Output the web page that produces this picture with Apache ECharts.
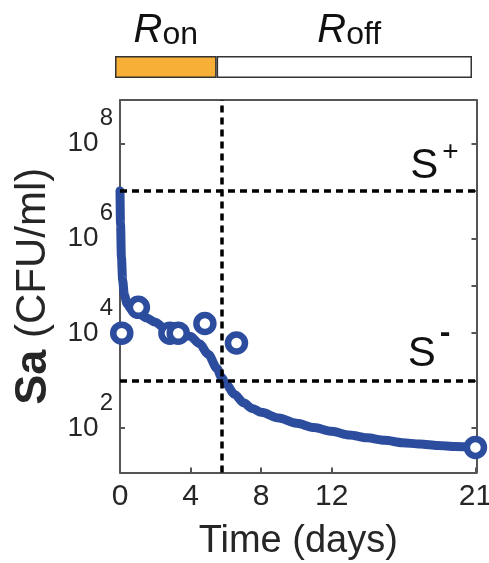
<!DOCTYPE html>
<html><head><meta charset="utf-8">
<script src="https://cdn.jsdelivr.net/npm/echarts@6/dist/echarts.min.js"></script>
<style>html,body{margin:0;padding:0;background:#fff}#c{width:489px;height:563px}</style>
</head><body><div id="c"></div>
<script>
// Model curve: time (days) and Sa density (CFU/ml)
const curveDays = [0,0.03,0.08,0.15,0.25,0.4,0.6,1.0,1.5,2.0,2.5,3.0,3.5,4.0,4.5,5.0,5.5,5.75,6.0,6.5,7.0,7.5,8,9,10,11,12,13,14,15,16,17,18,19,20.14];
const curveCFU  = [1.0e7,2.0e6,4.0e5,1.3e5,6.3e4,4.2e4,3.3e4,2.7e4,2.1e4,1.7e4,1.3e4,1.1e4,9.5e3,8.5e3,6.0e3,3.6e3,1.8e3,1.17e3,850,510,340,257,214,162,126,102,85,71,62,55,49,46,43,41,39];
// Observed points
const obsDays = [0.1,1.04,2.83,3.3,4.81,6.6,20.14];
const obsCFU  = [1.0e4,3.5e4,1.0e4,1.0e4,1.6e4,6.2e3,39];
// Axis ticks
const xTickValues = [0,4,8,12,20.14];
const xTickLabels = ['0','4','8','12','21'];
const yTickExps = [2,3,4,5,6,7,8];
const yLabelExps = [2,4,6,8];
// Thresholds and phases
const sPlus = 1e7, sMinus = 1e3;
const switchDay = 5.75;
const phaseNames = ['on','off'];
const phaseDurations = [5.75, 14.45];

const FONT = '"Liberation Sans", Arial, Helvetica, sans-serif';
const BLUE = '#2c4c9e';
const AX = '#555555';
const TXT = '#262626';
const yMin = 1.062, yMax = 8.917, xMax = 20.2;
const lg = v => Math.log10(v);

const chart = echarts.init(document.getElementById('c'), null, {renderer:'canvas'});

const axLine = {show:true, onZero:false, lineStyle:{color:AX, width:2}};
const phaseRich = {
  R:{fontSize:40, lineHeight:40, fontStyle:'italic', verticalAlign:'bottom', color:'#111', fontFamily:FONT},
  s:{fontSize:32, lineHeight:32, verticalAlign:'bottom', color:'#111', fontFamily:FONT}
};

const option = {
  animation:false,
  backgroundColor:'#fff',
  grid:[
    {left:120, right:12.5, top:100, bottom:90.5, outerBoundsMode:'none'},
    {left:115, right:17, top:56, height:22, outerBoundsMode:'none'}
  ],
  xAxis:[
    {gridIndex:0, type:'value', min:0, max:xMax, position:'bottom',
     axisLine:axLine,
     axisTick:{show:true, inside:true, length:5, customValues:xTickValues, lineStyle:{color:AX, width:2}},
     axisLabel:{show:true, customValues:xTickValues, margin:9, fontSize:30, color:TXT, fontFamily:FONT,
       formatter:(v)=>{const i=xTickValues.indexOf(v); return i>=0?xTickLabels[i]:'';}},
     splitLine:{show:false},
     name:'Time (days)', nameLocation:'middle', nameGap:50,
     nameTextStyle:{fontSize:38, color:TXT, fontFamily:FONT}},
    {gridIndex:0, type:'value', min:0, max:xMax, position:'top',
     axisLine:axLine, axisTick:{show:false}, axisLabel:{show:false}, splitLine:{show:false}},
    {gridIndex:1, type:'value', min:0, max:xMax, show:false}
  ],
  yAxis:[
    {gridIndex:0, type:'value', min:yMin, max:yMax, position:'left',
     axisLine:axLine,
     axisTick:{show:true, inside:true, length:5, customValues:yTickExps, lineStyle:{color:AX, width:2}},
     axisLabel:{show:true, customValues:yLabelExps, margin:7, color:TXT, fontFamily:FONT,
       formatter:(v)=>'{b|10}{e|'+v+'}',
       rich:{
         b:{fontSize:28, lineHeight:28, padding:[22,0,22,0], color:TXT, fontFamily:FONT},
         e:{fontSize:24, lineHeight:22, padding:[0,0,50,1], color:TXT, fontFamily:FONT}
       }},
     splitLine:{show:false},
     name:'{b|Sa} {n|(CFU/ml)}', nameLocation:'middle', nameGap:64,
     nameTextStyle:{color:TXT, fontFamily:FONT, fontSize:42,
       rich:{b:{fontSize:45, fontWeight:'bold', color:TXT, fontFamily:FONT},
             n:{fontSize:42, color:TXT, fontFamily:FONT}}}},
    {gridIndex:0, type:'value', min:yMin, max:yMax, position:'right',
     axisLine:axLine,
     axisTick:{show:true, inside:true, length:5, customValues:yTickExps, lineStyle:{color:AX, width:2}},
     axisLabel:{show:false}, splitLine:{show:false}},
    {gridIndex:1, type:'category', data:['phase'], show:false}
  ],
  series:[
    {type:'line', xAxisIndex:0, yAxisIndex:0, z:2,
     data:curveDays.map((d,i)=>[d, lg(curveCFU[i])]),
     symbol:'none', showSymbol:false, smooth:0.3, smoothMonotone:'x', clip:false,
     lineStyle:{color:BLUE, width:9, cap:'round', join:'round'}},
    {type:'scatter', xAxisIndex:0, yAxisIndex:0, z:3, clip:false,
     data:obsDays.map((d,i)=>[d, lg(obsCFU[i])]),
     symbol:'circle', symbolSize:17,
     itemStyle:{color:'#ffffff', borderColor:BLUE, borderWidth:6.5, opacity:1}},
    {type:'line', xAxisIndex:0, yAxisIndex:0, z:5, data:[], symbol:'none',
     markLine:{silent:true, symbol:['none','none'], animation:false,
       lineStyle:{color:'#000', width:3.5, type:[7,5]},
       data:[
         {yAxis:lg(sPlus), label:{show:true, position:'insideEndTop', distance:[18,4],
            formatter:'{s|S}{p|+}', rich:{
              s:{fontSize:42, lineHeight:42, padding:[2,0,0,0], color:'#111', fontFamily:FONT},
              p:{fontSize:28, lineHeight:16, padding:[0,0,28,4], color:'#111', fontFamily:FONT}}}},
         {yAxis:lg(sMinus), label:{show:true, position:'insideEndTop', distance:[26,8],
            formatter:'{s|S}{p|-}', rich:{
              s:{fontSize:42, lineHeight:42, padding:[6,0,0,0], color:'#111', fontFamily:FONT},
              p:{fontSize:32, lineHeight:12, fontWeight:'bold', padding:[0,0,36,4], color:'#111', fontFamily:FONT}}}},
         {xAxis:switchDay, label:{show:false}}
       ]}},
    {type:'bar', xAxisIndex:2, yAxisIndex:2, stack:'ph', barWidth:22,
     data:[phaseDurations[0]],
     itemStyle:{color:'#F7AF37', borderColor:'#333', borderWidth:1.5},
     label:{show:true, position:'top', distance:5, formatter:'{R|R}{s|'+phaseNames[0]+'}', rich:phaseRich}},
    {type:'bar', xAxisIndex:2, yAxisIndex:2, stack:'ph', barWidth:22,
     data:[phaseDurations[1]],
     itemStyle:{color:'#ffffff', borderColor:'#333', borderWidth:1.5},
     label:{show:true, position:'top', distance:5, offset:[5,0], formatter:'{R|R}{s|'+phaseNames[1]+'}', rich:phaseRich}}
  ]
};
chart.setOption(option);
</script>
</body></html>
